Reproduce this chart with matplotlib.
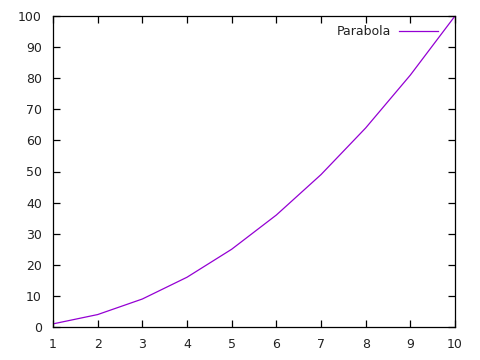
import matplotlib
matplotlib.use('Agg')
import matplotlib.pyplot as plt

x_vals = [1, 2, 3, 4, 5, 6, 7, 8, 9, 10]
y_vals = [1, 4, 9, 16, 25, 36, 49, 64, 81, 100]
x_ticks = [1, 2, 3, 4, 5, 6, 7, 8, 9, 10]
y_ticks = [0, 10, 20, 30, 40, 50, 60, 70, 80, 90, 100]

fig = plt.figure(figsize=(4.8, 3.6), dpi=100)
ax = fig.add_axes([53 / 480, 33 / 360, 402 / 480, 311 / 360])

ax.plot(x_vals, y_vals, color='#9400d3', linewidth=0.9, label='Parabola')

ax.set_xlim(1, 10)
ax.set_ylim(0, 100)
ax.set_xticks(x_ticks)
ax.set_yticks(y_ticks)
ax.tick_params(direction='in', length=5, width=0.9, top=True, right=True,
               labelsize=9, colors='black', labelcolor='#222222')
ax.tick_params(axis='x', pad=8)
ax.tick_params(axis='y', pad=8)
for s in ax.spines.values():
    s.set_linewidth(0.9)

# gnuplot style key, line sample to the right of the text
leg = fig.legend(loc='upper right', bbox_to_anchor=(438 / 480, 335 / 360),
                 frameon=False, fontsize=9, handlelength=3.1, markerfirst=False,
                 handletextpad=0.65, borderpad=0, borderaxespad=0)
for t in leg.get_texts():
    t.set_color('#222222')

fig.savefig('out.png', dpi=100)
